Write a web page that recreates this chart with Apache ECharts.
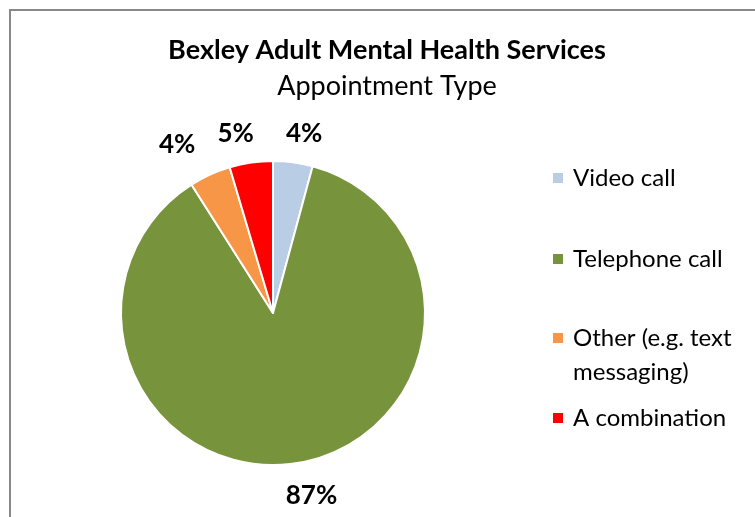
<!DOCTYPE html>
<html>
<head>
<meta charset="utf-8">
<script src="https://cdn.jsdelivr.net/npm/echarts@6/dist/echarts.min.js"></script>
<style>
  html, body { margin: 0; padding: 0; background: #fff; }
  #chart { width: 755px; height: 517px; }
</style>
</head>
<body>
<div id="chart"></div>
<script>
const categories = ['Video call', 'Telephone call', 'Other (e.g. text messaging)', 'A combination'];
const shares = [4.2, 86.8, 4.4, 4.6];
const colors = ['#B9CDE5', '#77933C', '#F79646', '#FF0000'];

// layout tweaks (Excel "best fit" label spots, legend rows)
const labelNudges = [[7, 2], [11, 2], [-20, -2], [-11, 2]];
const legendTops = [161, 242, 287, 401];

const FONT = 'Lato';
const pieData = categories.map((name, i) => ({ name: name, value: shares[i], itemStyle: { color: colors[i] } }));

const chart = echarts.init(document.getElementById('chart'), null, { renderer: 'canvas' });
chart.setOption({
  animation: false,
  title: {
    text: 'Bexley Adult Mental Health Services',
    subtext: 'Appointment Type',
    left: 382,
    top: 32,
    textAlign: 'center',
    itemGap: 9,
    textStyle: { fontFamily: FONT, fontWeight: 'bold', fontSize: 27, color: '#000' },
    subtextStyle: { fontFamily: FONT, fontSize: 27, color: '#000' }
  },
  legend: categories.map((name, i) => ({
    data: [name],
    left: 551,
    top: legendTops[i],
    padding: 0,
    icon: 'rect',
    itemWidth: 12,
    itemHeight: 12,
    selectedMode: false,
    formatter: n => n === 'Other (e.g. text messaging)' ? '\nOther (e.g. text\nmessaging)' : n,
    textStyle: { fontFamily: FONT, fontSize: 24, color: '#000', lineHeight: 34, padding: [0, 0, 0, 4] }
  })),
  graphic: [{
    type: 'rect',
    shape: { x: 10, y: 10, width: 800, height: 600 },
    style: { fill: 'none', stroke: '#888888', lineWidth: 2 },
    silent: true
  }],
  series: [
    {
      type: 'pie',
      center: [273, 313],
      radius: [0, 152],
      startAngle: 90,
      clockwise: true,
      data: pieData,
      itemStyle: { borderColor: '#fff', borderWidth: 2 },
      label: { show: false },
      labelLine: { show: false },
      emphasis: { disabled: true }
    },
    {
      // transparent ring carrying the percentage labels outside the pie
      type: 'pie',
      center: [273, 313],
      radius: [152, 208],
      startAngle: 90,
      clockwise: true,
      silent: true,
      data: pieData.map((d, i) => ({
        name: d.name,
        value: d.value,
        itemStyle: { color: 'rgba(0,0,0,0)' },
        label: { offset: labelNudges[i] }
      })),
      label: {
        show: true,
        position: 'inside',
        fontFamily: FONT,
        fontWeight: 'bold',
        fontSize: 26,
        color: '#000',
        formatter: p => Math.round(p.value) + '%'
      },
      labelLine: { show: false },
      emphasis: { disabled: true }
    }
  ]
});
</script>
</body>
</html>
